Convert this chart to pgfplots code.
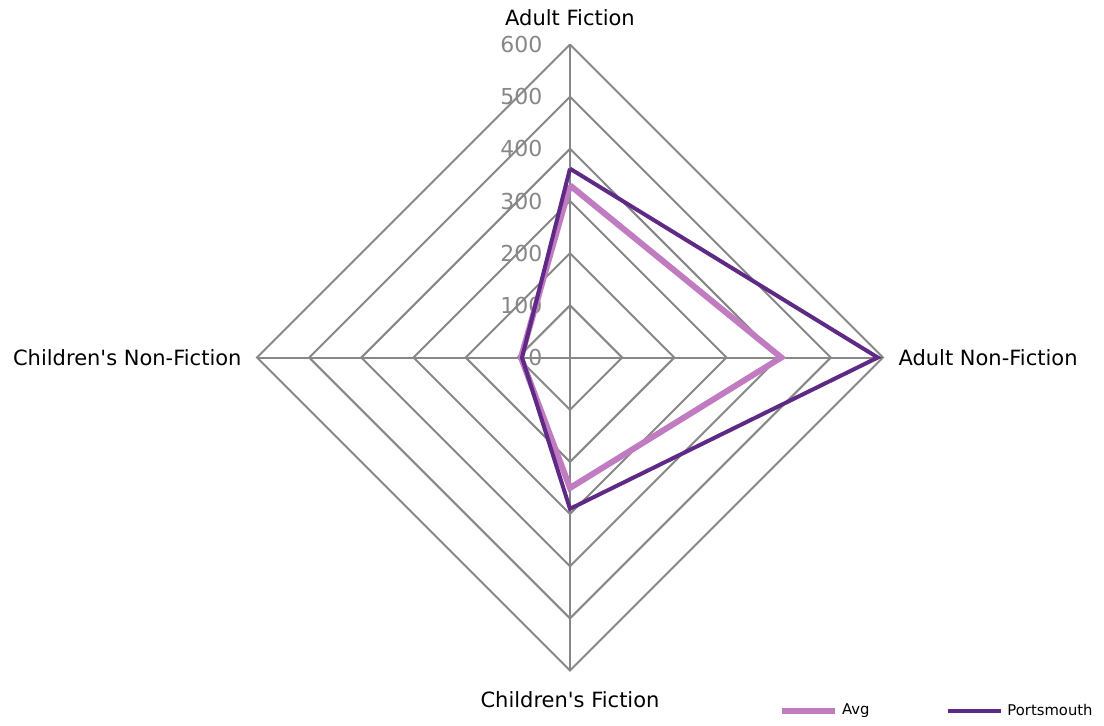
\documentclass[border=0pt]{standalone}
\usepackage{fontspec}
\setmainfont{DejaVu Sans}[Ligatures=TeXOff]
\usepackage{pgfplots}
\pgfplotsset{compat=1.18}
\definecolor{avgc}{HTML}{C17CC1}
\definecolor{portc}{HTML}{5E2A86}
\definecolor{gridc}{HTML}{878787}
\begin{document}
\begin{tikzpicture}
\begin{axis}[
    scale only axis,
    width=552pt, height=362.5pt,
    xmin=-1092.6, xmax=1023.6,
    ymin=-704.4, ymax=685.3,
    axis lines=none,
    clip=false,
    legend columns=2,
    legend style={draw=none, fill=none, inner sep=0pt, font=\fontsize{7.4}{9}\selectfont,
        at={(axis cs:400,-677.6)}, anchor=west,
        /tikz/column 2/.style={column sep=36.5pt}},
    legend image code/.code={\draw[#1] (0pt,0pt) -- (26.5pt,0pt);},
]
% keep the full canvas in the bounding box
\path (rel axis cs:0,0) rectangle (rel axis cs:1,1);
% grid rings
\addplot[gridc, line width=1pt, forget plot] coordinates {(0,100) (100,0) (0,-100) (-100,0) (0,100)};
\addplot[gridc, line width=1pt, forget plot] coordinates {(0,200) (200,0) (0,-200) (-200,0) (0,200)};
\addplot[gridc, line width=1pt, forget plot] coordinates {(0,300) (300,0) (0,-300) (-300,0) (0,300)};
\addplot[gridc, line width=1pt, forget plot] coordinates {(0,400) (400,0) (0,-400) (-400,0) (0,400)};
\addplot[gridc, line width=1pt, forget plot] coordinates {(0,500) (500,0) (0,-500) (-500,0) (0,500)};
\addplot[gridc, line width=1pt, forget plot] coordinates {(0,600) (600,0) (0,-600) (-600,0) (0,600)};
\addplot[gridc, line width=1pt, forget plot] coordinates {(0,-600) (0,600)};
\addplot[gridc, line width=1pt, forget plot] coordinates {(-600,0) (600,0)};
% value labels
\foreach \v in {0,100,...,600}{
  \edef\tmp{\noexpand\node[anchor=east, text=gridc, inner sep=0pt,
     font=\noexpand\fontsize{11}{13}\noexpand\selectfont] at (axis cs:-52,\v) {\v};}
  \tmp
}
% category labels
\node[font=\fontsize{10.5}{12}\selectfont] at (axis cs:0,651) {Adult Fiction};
\node[font=\fontsize{10.5}{12}\selectfont, anchor=west, inner sep=0pt] at (axis cs:629,0) {Adult Non-Fiction};
\node[font=\fontsize{10.5}{12}\selectfont] at (axis cs:0,-656) {Children's Fiction};
\node[font=\fontsize{10.5}{12}\selectfont, anchor=east, inner sep=0pt] at (axis cs:-629,0) {Children's Non-Fiction};
% data: Adult Fiction (0,v), Adult Non-Fiction (v,0), Children's Fiction (0,-v), Children's Non-Fiction (-v,0)
\addplot[avgc, line width=3pt] coordinates {(0,330) (405,0) (0,-250) (-94,0) (0,330)};
\addplot[portc, line width=2pt] coordinates {(0,362) (590,0) (0,-290) (-92,0) (0,362)};
\legend{Avg, Portsmouth}
\end{axis}
\end{tikzpicture}
\end{document}
